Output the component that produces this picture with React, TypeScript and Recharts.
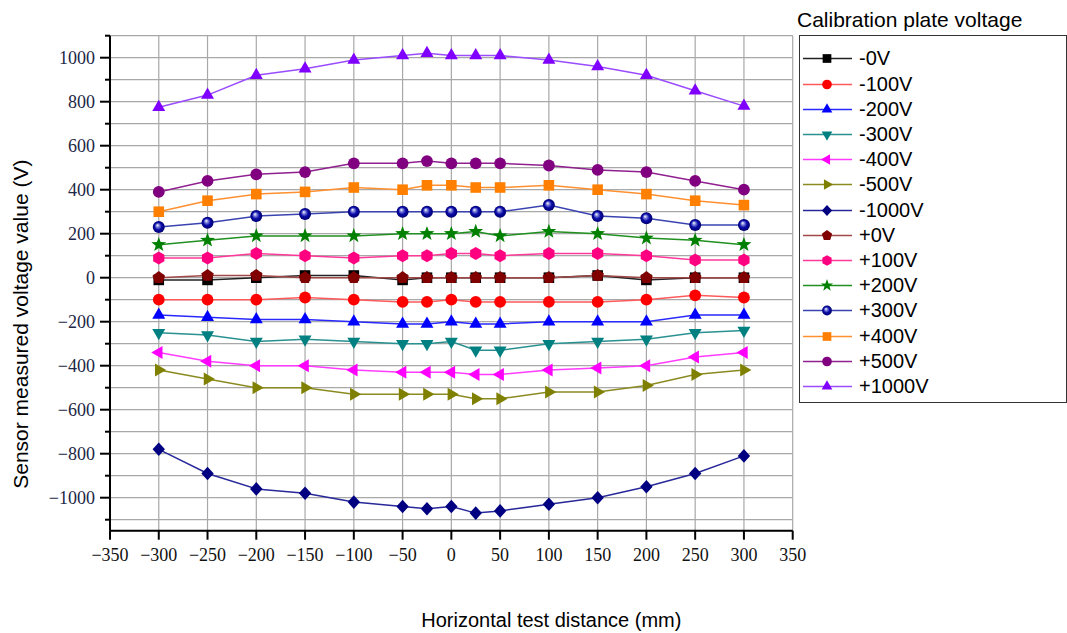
import React from "react";
import { LineChart, Line, XAxis, YAxis, CartesianGrid, Legend } from "recharts";

// horizontal positions (mm) and measured sensor voltages (V)
const distances = [-300, -250, -200, -150, -100, -50, -25, 0, 25, 50, 100, 150, 200, 250, 300];

const minus0 = [-10, -10, 0, 10, 10, -10, 0, 0, 0, 0, 0, 10, -10, 0, 0];
const minus100 = [-100, -100, -100, -90, -100, -110, -110, -100, -110, -110, -110, -110, -100, -80, -90];
const minus200 = [-170, -180, -190, -190, -200, -210, -210, -200, -210, -210, -200, -200, -200, -170, -170];
const minus300 = [-250, -260, -290, -280, -290, -300, -300, -290, -330, -330, -300, -290, -280, -250, -240];
const minus400 = [-340, -380, -400, -400, -420, -430, -430, -430, -440, -440, -420, -410, -400, -360, -340];
const minus500 = [-420, -460, -500, -500, -530, -530, -530, -530, -550, -550, -520, -520, -490, -440, -420];
const minus1000 = [-780, -890, -960, -980, -1020, -1040, -1050, -1040, -1070, -1060, -1030, -1000, -950, -890, -810];
const plus0 = [0, 10, 10, 0, 0, 0, 0, 0, 0, 0, 0, 10, 0, 0, 0];
const plus100 = [90, 90, 110, 100, 90, 100, 100, 110, 110, 100, 110, 110, 100, 80, 80];
const plus200 = [150, 170, 190, 190, 190, 200, 200, 200, 210, 190, 210, 200, 180, 170, 150];
const plus300 = [230, 250, 280, 290, 300, 300, 300, 300, 300, 300, 330, 280, 270, 240, 240];
const plus400 = [300, 350, 380, 390, 410, 400, 420, 420, 410, 410, 420, 400, 380, 350, 330];
const plus500 = [390, 440, 470, 480, 520, 520, 530, 520, 520, 520, 510, 490, 480, 440, 400];
const plus1000 = [775, 830, 920, 950, 990, 1010, 1020, 1010, 1010, 1010, 990, 960, 920, 850, 780];

const xTicks = [-350, -300, -250, -200, -150, -100, -50, 0, 50, 100, 150, 200, 250, 300, 350];
const yTicks = [
  -1100, -1000, -900, -800, -700, -600, -500, -400, -300, -200, -100, 0,
  100, 200, 300, 400, 500, 600, 700, 800, 900, 1000, 1100,
];

type Shape =
  | "square" | "circle" | "up" | "down" | "left" | "right"
  | "diamond" | "pentagon" | "hexagon" | "star" | "sphere";

const series: { key: string; name: string; values: number[]; color: string; line: string; shape: Shape }[] = [
  { key: "m0", name: "-0V", values: minus0, color: "#000000", line: "#222222", shape: "square" },
  { key: "m100", name: "-100V", values: minus100, color: "#ff0000", line: "#ff5a5a", shape: "circle" },
  { key: "m200", name: "-200V", values: minus200, color: "#0000ff", line: "#2a2aff", shape: "up" },
  { key: "m300", name: "-300V", values: minus300, color: "#008080", line: "#2a9090", shape: "down" },
  { key: "m400", name: "-400V", values: minus400, color: "#ff00ff", line: "#ff3cff", shape: "left" },
  { key: "m500", name: "-500V", values: minus500, color: "#808000", line: "#8a8a20", shape: "right" },
  { key: "m1000", name: "-1000V", values: minus1000, color: "#000080", line: "#28289a", shape: "diamond" },
  { key: "p0", name: "+0V", values: plus0, color: "#800000", line: "#a04848", shape: "pentagon" },
  { key: "p100", name: "+100V", values: plus100, color: "#ff0080", line: "#ff3a9a", shape: "hexagon" },
  { key: "p200", name: "+200V", values: plus200, color: "#008000", line: "#209020", shape: "star" },
  { key: "p300", name: "+300V", values: plus300, color: "#0000a0", line: "#3a44b0", shape: "sphere" },
  { key: "p400", name: "+400V", values: plus400, color: "#ff8000", line: "#ff9030", shape: "square" },
  { key: "p500", name: "+500V", values: plus500, color: "#800080", line: "#902090", shape: "circle" },
  { key: "p1000", name: "+1000V", values: plus1000, color: "#8000ff", line: "#9a4cff", shape: "up" },
];

const rows = distances.map((x, i) => {
  const row: Record<string, number> = { x };
  series.forEach((s) => {
    row[s.key] = s.values[i];
  });
  return row;
});

const fmt = (v: number) => (v < 0 ? "\u2212" + Math.abs(v) : String(v));

const poly = (n: number, r: number, start: number, inner?: number) => {
  const pts: string[] = [];
  const count = inner ? n * 2 : n;
  for (let i = 0; i < count; i++) {
    const a = start + (i * 2 * Math.PI) / count;
    const rr = inner && i % 2 === 1 ? inner : r;
    pts.push(`${(rr * Math.cos(a)).toFixed(2)},${(rr * Math.sin(a)).toFixed(2)}`);
  }
  return pts.join(" ");
};

const UP = -Math.PI / 2;

function Marker({ cx, cy, shape, color, id, k = 1 }: {
  cx: number; cy: number; shape: Shape; color: string; id: string; k?: number;
}) {
  const t = `translate(${cx},${cy}) scale(${k})`;
  switch (shape) {
    case "square":
      return <rect x={-5.3} y={-5.3} width={10.6} height={10.6} fill={color} transform={t} />;
    case "circle":
      return <circle r={5.9} fill={color} transform={t} />;
    case "up":
      return <polygon points={poly(3, 7.5, UP)} fill={color} transform={t} />;
    case "down":
      return <polygon points={poly(3, 7.5, -UP)} fill={color} transform={t} />;
    case "left":
      return <polygon points={poly(3, 7.5, Math.PI)} fill={color} transform={t} />;
    case "right":
      return <polygon points={poly(3, 7.5, 0)} fill={color} transform={t} />;
    case "diamond":
      return <polygon points="0,-6.8 6.2,0 0,6.8 -6.2,0" fill={color} transform={t} />;
    case "pentagon":
      return <polygon points={poly(5, 6.6, UP)} fill={color} transform={t} />;
    case "hexagon":
      return <polygon points={poly(6, 6.5, UP)} fill={color} transform={t} />;
    case "star":
      return <polygon points={poly(5, 7.8, UP, 3.2)} fill={color} transform={t} />;
    case "sphere":
      return (
        <g transform={t}>
          <defs>
            <radialGradient id={id} cx="0.5" cy="0.5" r="0.5" fx="0.38" fy="0.33">
              <stop offset="0" stopColor="#ffffff" />
              <stop offset="0.28" stopColor="#7a80d8" />
              <stop offset="0.6" stopColor="#0a0aa8" />
              <stop offset="1" stopColor="#000070" />
            </radialGradient>
          </defs>
          <circle r={6} fill={`url(#${id})`} />
        </g>
      );
  }
  return null;
}

const serif = "'Liberation Serif', 'Times New Roman', serif";
const sans = "'Liberation Sans', Arial, sans-serif";

// left axis: labels on even hundreds, long/short outward ticks
const LeftTick = (props: any) => {
  const { x, y, payload } = props;
  const v = payload.value as number;
  const major = v % 200 === 0;
  const edge = x + 15;
  return (
    <g>
      <line x1={edge - (major ? 10 : 5)} x2={edge} y1={y} y2={y} stroke="#000" strokeWidth={2} />
      {major && Math.abs(v) <= 1000 && (
        <text x={x} y={y} dy="0.36em" textAnchor="end" fontFamily={serif} fontSize={18} fill="#1b2745">
          {fmt(v)}
        </text>
      )}
    </g>
  );
};

// right axis: inward ticks only
const RightTick = (props: any) => {
  const { x, y, payload } = props;
  const major = (payload.value as number) % 200 === 0;
  return <line x1={x - (major ? 10 : 5)} x2={x} y1={y} y2={y} stroke="#000" strokeWidth={2} />;
};

const XTitle = (props: any) => {
  const { x, y, width } = props.viewBox;
  return (
    <text x={x + width / 2 + 100} y={y + 96} textAnchor="middle" fontFamily={sans} fontSize={20} fill="#000">
      Horizontal test distance (mm)
    </text>
  );
};

const YTitle = (props: any) => {
  const { x, y, height } = props.viewBox;
  const cx = x + 21;
  const cy = y + height / 2 + 41;
  return (
    <text
      x={cx}
      y={cy}
      dy="0.35em"
      transform={`rotate(-90, ${cx}, ${cy})`}
      textAnchor="middle"
      fontFamily={sans}
      fontSize={21}
      fill="#000"
    >
      Sensor measured voltage value (V)
    </text>
  );
};

// legend keeps the series order rather than the payload's order
const LegendBox = (props: any) => {
  const payload: any[] = props.payload || [];
  const shown = series.filter((s) => payload.some((e) => e.dataKey === s.key));
  return (
    <div style={{ fontFamily: sans, color: "#000" }}>
      <div style={{ fontSize: 21, lineHeight: "24px", height: 27, whiteSpace: "nowrap" }}>
        Calibration plate voltage
      </div>
      <div
        style={{
          marginLeft: 2,
          width: 268,
          height: 368,
          boxSizing: "border-box",
          border: "1px solid #333",
          paddingTop: 10.4,
        }}
      >
        {shown.map((s) => (
          <div key={s.key} style={{ display: "flex", alignItems: "center", height: 25.2 }}>
            <svg width={59} height={25} style={{ display: "block" }}>
              <line x1={3} x2={52} y1={12.5} y2={12.5} stroke={s.line} strokeWidth={1.5} />
              <Marker cx={27} cy={12.5} shape={s.shape} color={s.color} id={`lg-${s.key}`} k={0.82} />
            </svg>
            <span style={{ fontSize: 20, lineHeight: "25px" }}>{s.name}</span>
          </div>
        ))}
      </div>
    </div>
  );
};

const axisStroke = { stroke: "#000", strokeWidth: 2 };

export default function App() {
  return (
    <div style={{ position: "absolute", left: 0, top: 0, background: "#fff" }}>
      <LineChart
        width={1067}
        height={633}
        data={rows}
        margin={{ top: 35.7, right: 274.3, bottom: 42.3, left: 0 }}
      >
        <CartesianGrid xAxisId="b" yAxisId="l" stroke="#a8a8a8" strokeWidth={1.2} />
        <XAxis
          xAxisId="b"
          type="number"
          dataKey="x"
          domain={[-350, 350]}
          ticks={xTicks}
          interval={0}
          allowDataOverflow
          height={60}
          tickSize={9}
          tickMargin={9}
          axisLine={axisStroke}
          tickLine={axisStroke}
          tick={{ fontFamily: serif, fontSize: 18, fill: "#111" }}
          tickFormatter={fmt}
          label={XTitle}
        />
        <XAxis
          xAxisId="t"
          orientation="top"
          type="number"
          dataKey="x"
          domain={[-350, 350]}
          ticks={xTicks}
          interval={0}
          allowDataOverflow
          mirror
          height={0}
          tickSize={10}
          tick={false}
          axisLine={axisStroke}
          tickLine={axisStroke}
        />
        <YAxis
          yAxisId="l"
          type="number"
          domain={[-1150, 1100]}
          ticks={yTicks}
          interval={0}
          allowDataOverflow
          width={110}
          tickSize={0}
          tickMargin={15}
          tickLine={false}
          axisLine={axisStroke}
          tick={LeftTick}
          label={YTitle}
        />
        <YAxis
          yAxisId="r"
          orientation="right"
          type="number"
          domain={[-1150, 1100]}
          ticks={yTicks}
          interval={0}
          allowDataOverflow
          mirror
          width={0}
          tickSize={0}
          tickMargin={0}
          tickLine={false}
          axisLine={axisStroke}
          tick={RightTick}
        />
        {series.map((s) => (
          <Line
            key={s.key}
            xAxisId="b"
            yAxisId="l"
            type="linear"
            dataKey={s.key}
            name={s.name}
            stroke={s.line}
            strokeWidth={1.5}
            isAnimationActive={false}
            dot={(p: any) => (
              <Marker
                key={`${s.key}-${p.index}`}
                cx={p.cx}
                cy={p.cy}
                shape={s.shape}
                color={s.color}
                id={`sp-${s.key}-${p.index}`}
              />
            )}
            activeDot={false}
          />
        ))}
        <Legend
          content={LegendBox}
          layout="vertical"
          align="center"
          verticalAlign="middle"
          wrapperStyle={{ position: "absolute", left: 797, top: 8, width: 270 }}
        />
      </LineChart>
    </div>
  );
}
